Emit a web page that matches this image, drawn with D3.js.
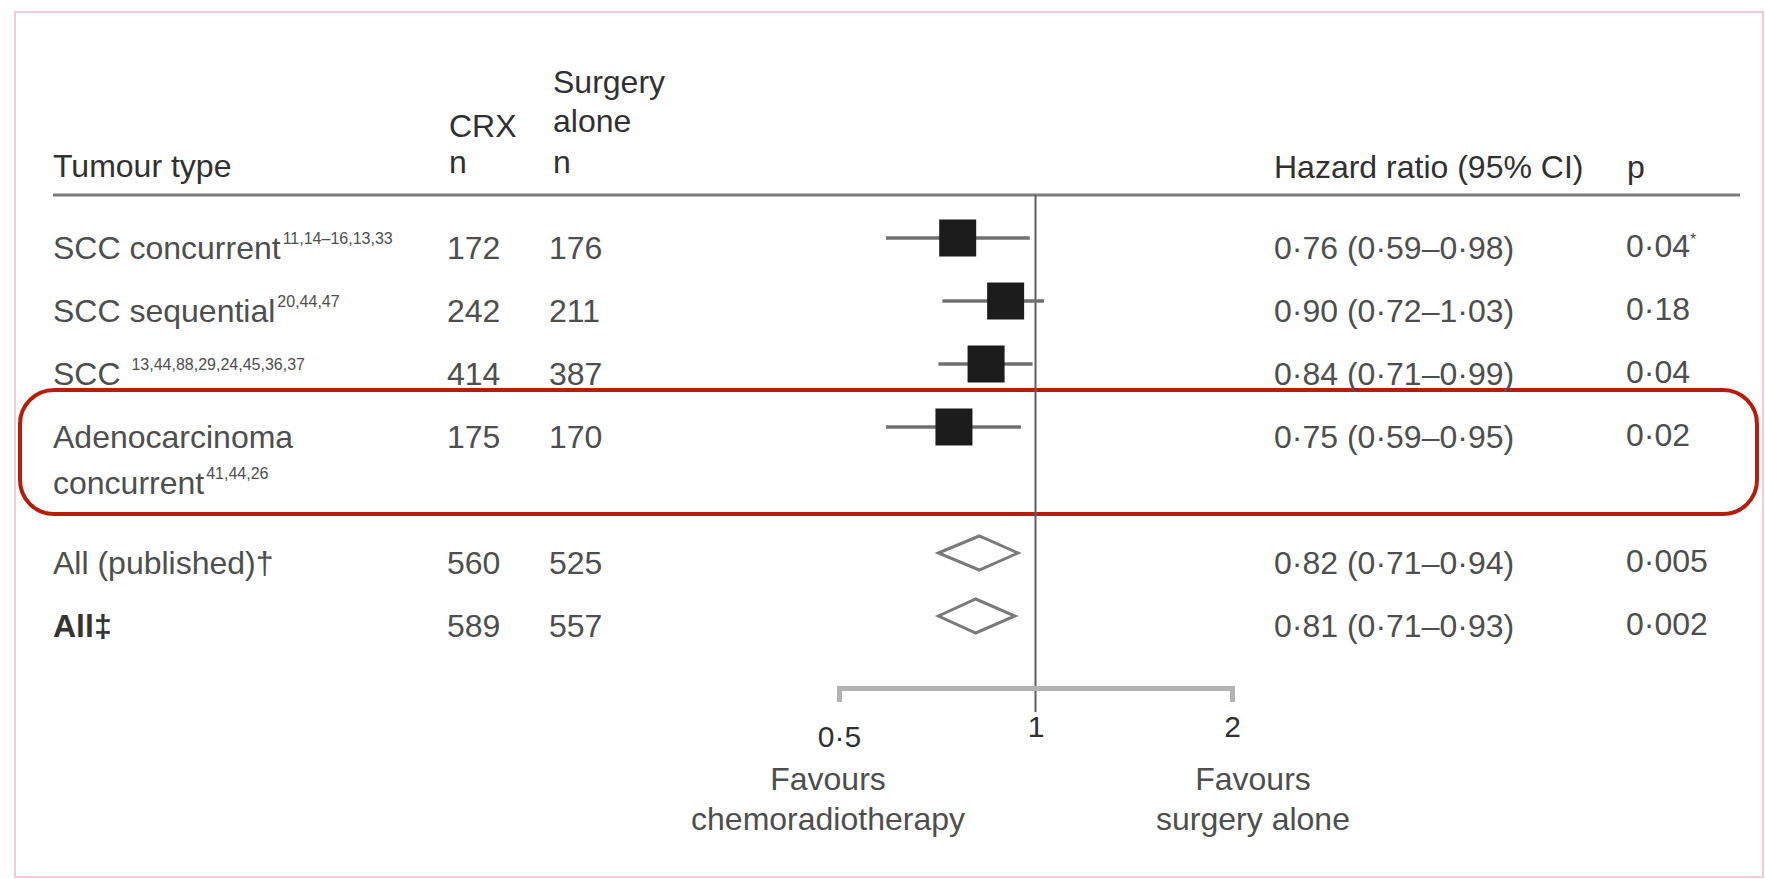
<!DOCTYPE html>
<html>
<head>
<meta charset="utf-8">
<script src="https://cdn.jsdelivr.net/npm/d3@7"></script>
<style>
  html, body { margin: 0; padding: 0; background: #fff; }
  svg { display: block; }
  text { font-family: "Liberation Sans", Arial, "DejaVu Sans", sans-serif; }
</style>
</head>
<body>
<svg id="chart" width="1765" height="879"></svg>
<script>
// Overall survival, chemoradiotherapy versus surgery alone, by tumour type
const tumourTypes = ["SCC concurrent", "SCC sequential", "SCC", "Adenocarcinoma concurrent", "All (published)†", "All‡"];
const references = ["11,14–16,13,33", "20,44,47", "13,44,88,29,24,45,36,37", "41,44,26", "", ""];
const crxN = [172, 242, 414, 175, 560, 589];
const surgeryN = [176, 211, 387, 170, 525, 557];
const hazardRatio = [0.76, 0.90, 0.84, 0.75, 0.82, 0.81];
const ciLower = [0.59, 0.72, 0.71, 0.59, 0.71, 0.71];
const ciUpper = [0.98, 1.03, 0.99, 0.95, 0.94, 0.93];
const pValues = ["0·04", "0·18", "0·04", "0·02", "0·005", "0·002"];
const pNotes = ["*", "", "", "", "", ""];
const pooled = [false, false, false, false, true, true];
const rowSlots = [0, 1, 2, 3, 5, 6];
const axisTicks = [0.5, 1, 2];
const favourLeft = ["Favours", "chemoradiotherapy"];
const favourRight = ["Favours", "surgery alone"];

const svg = d3.select("#chart");
const dot = s => s.replace(".", "·");
const fmt2 = v => dot(d3.format(".2f")(v));
const fmtTick = v => dot(String(v));

const x = d3.scaleLog().domain([0.5, 2]).range([839, 1232]);
const y = d3.scaleLinear().domain([0, 6]).range([238, 616]);

const textMain = "#4e4e4e";
const textHead = "#303030";
const fs = 32;

// page frame
svg.append("rect")
  .attr("x", 15).attr("y", 12).attr("width", 1748).attr("height", 865)
  .attr("fill", "none").attr("stroke", "#f1cbd6").attr("stroke-width", 2);

// column headers
const head = svg.append("g").attr("fill", textHead).attr("font-size", fs);
head.append("text").attr("x", 53).attr("y", 177).text("Tumour type");
head.append("text").attr("x", 449).attr("y", 137).text("CRX");
head.append("text").attr("x", 449).attr("y", 173).text("n");
head.append("text").attr("x", 553).attr("y", 93).text("Surgery");
head.append("text").attr("x", 553).attr("y", 132).text("alone");
head.append("text").attr("x", 553).attr("y", 173).text("n");
head.append("text").attr("x", 1274).attr("y", 178).text("Hazard ratio (95% CI)");
head.append("text").attr("x", 1627).attr("y", 178).text("p");

svg.append("line")
  .attr("x1", 53).attr("x2", 1740).attr("y1", 195).attr("y2", 195)
  .attr("stroke", "#7a7a7a").attr("stroke-width", 3);

// highlighted adenocarcinoma row
svg.append("rect")
  .attr("x", 20).attr("y", y(rowSlots[3]) - 37).attr("width", 1737).attr("height", 124)
  .attr("rx", 34).attr("ry", 34)
  .attr("fill", "none").attr("stroke", "#b71c0b").attr("stroke-width", 4);

// line of no effect
svg.append("line")
  .attr("x1", x(1)).attr("x2", x(1)).attr("y1", 195).attr("y2", 712)
  .attr("stroke", "#5e5e5e").attr("stroke-width", 2);

// rows
const rows = tumourTypes.map((t, i) => ({
  label: t, ref: references[i], crx: crxN[i], sur: surgeryN[i],
  hr: hazardRatio[i], lo: ciLower[i], hi: ciUpper[i],
  p: pValues[i], note: pNotes[i], pooled: pooled[i], cy: y(rowSlots[i])
}));

const g = svg.append("g").attr("font-size", fs).attr("fill", textMain);

rows.forEach((r, i) => {
  const base = r.cy + 21;
  const words = r.label === "Adenocarcinoma concurrent" ? ["Adenocarcinoma", "concurrent"] : [r.label];
  words.forEach((w, k) => {
    const t = g.append("text").attr("x", 53).attr("y", base + k * 46)
      .attr("font-weight", r.label === "All‡" ? "bold" : null)
      .attr("fill", r.label === "All‡" ? "#333" : textMain);
    t.append("tspan").text(r.label === "SCC" ? "SCC " : w);
    if (k === words.length - 1 && r.ref) {
      t.append("tspan").attr("font-size", 16).attr("dy", -15).attr("dx", 2).text(r.ref);
    }
  });
  g.append("text").attr("x", 447).attr("y", base).text(r.crx);
  g.append("text").attr("x", 549).attr("y", base).text(r.sur);
  g.append("text").attr("x", 1274).attr("y", base)
    .text(`${fmt2(r.hr)} (${fmt2(r.lo)}–${fmt2(r.hi)})`);
  const pt = g.append("text").attr("x", 1626).attr("y", base - 2);
  pt.append("tspan").text(r.p);
  if (r.note) pt.append("tspan").attr("font-size", 16).attr("dy", -12).text(r.note);
});

// study-group estimates: CI whisker + square
const marks = svg.append("g");
rows.filter(r => !r.pooled).forEach(r => {
  marks.append("line")
    .attr("x1", x(r.lo)).attr("x2", x(r.hi)).attr("y1", r.cy).attr("y2", r.cy)
    .attr("stroke", "#707070").attr("stroke-width", 3.5);
  marks.append("rect")
    .attr("x", x(r.hr) - 18.5).attr("y", r.cy - 18.5).attr("width", 37).attr("height", 37)
    .attr("fill", "#1c1c1c");
});

// pooled estimates: diamonds
rows.filter(r => r.pooled).forEach(r => {
  const h = 17;
  marks.append("path")
    .attr("d", `M${x(r.lo)},${r.cy} L${x(r.hr)},${r.cy - h} L${x(r.hi)},${r.cy} L${x(r.hr)},${r.cy + h} Z`)
    .attr("fill", "#fff").attr("stroke", "#7a7a7a").attr("stroke-width", 3)
    .attr("stroke-linejoin", "miter");
});

// hazard ratio axis (log scale)
const axis = d3.axisBottom(x)
  .tickValues(axisTicks)
  .tickFormat(fmtTick)
  .tickSizeInner(0)
  .tickSizeOuter(14)
  .tickPadding(0);

const ax = svg.append("g").attr("transform", "translate(0,688)").call(axis);
ax.select(".domain").attr("stroke", "#b3b3b3").attr("stroke-width", 5).attr("fill", "none");
ax.selectAll(".tick line").remove();
ax.selectAll(".tick text")
  .attr("font-family", "Liberation Sans, Arial, sans-serif")
  .attr("font-size", 30).attr("fill", textHead)
  .attr("dy", null)
  .attr("y", d => d === 0.5 ? 59 : 49);

// direction labels
const fav = svg.append("g").attr("font-size", fs).attr("fill", textMain).attr("text-anchor", "middle");
favourLeft.forEach((s, k) => fav.append("text").attr("x", 828).attr("y", 790 + k * 40).text(s));
favourRight.forEach((s, k) => fav.append("text").attr("x", 1253).attr("y", 790 + k * 40).text(s));
</script>
</body>
</html>
